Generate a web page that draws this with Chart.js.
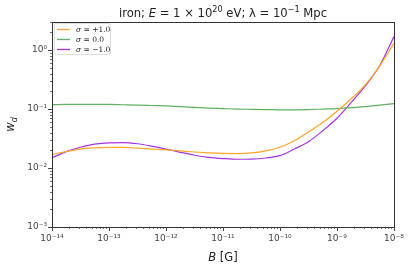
<!DOCTYPE html>
<html>
<head>
<meta charset="utf-8">
<script src="https://cdn.jsdelivr.net/npm/chart.js@4.4.0/dist/chart.umd.min.js"></script>
<style>
  html, body { margin: 0; padding: 0; background: #fff; }
  canvas { display: block; }
</style>
</head>
<body>
<canvas id="myChart" width="411" height="268"></canvas>
<script>
// B in gauss, as log10 exponents (quarter decades)
const logB = [-14, -13.75, -13.5, -13.25, -13, -12.75, -12.5, -12.25, -12,
  -11.75, -11.5, -11.25, -11, -10.75, -10.5, -10.25, -10,
  -9.75, -9.5, -9.25, -9, -8.75, -8.5, -8.25, -8];

const sigmaPlus = [0.017, 0.019, 0.021, 0.022, 0.0225, 0.0224, 0.0218, 0.021, 0.0203,
  0.0195, 0.0187, 0.0181, 0.0177, 0.0176, 0.0181, 0.0196, 0.0225,
  0.029, 0.041, 0.059, 0.092, 0.15, 0.26, 0.54, 1.3];

const sigmaZero = [0.119, 0.120, 0.1205, 0.1205, 0.120, 0.1185, 0.117, 0.115, 0.113,
  0.110, 0.107, 0.104, 0.102, 0.100, 0.099, 0.098, 0.097,
  0.097, 0.098, 0.100, 0.102, 0.106, 0.110, 0.117, 0.124];

const sigmaMinus = [0.015, 0.019, 0.0225, 0.0255, 0.0268, 0.027, 0.0258, 0.0235, 0.021,
  0.0185, 0.0165, 0.0152, 0.0145, 0.0141, 0.0142, 0.0148, 0.0162,
  0.021, 0.028, 0.043, 0.07, 0.13, 0.25, 0.55, 1.7];

const seriesLabels = ['+1.0', '0.0', '−1.0'];
const seriesColors = ['#ffa52a', '#62b062', '#a534e2'];

const xTickExps = [-14, -13, -12, -11, -10, -9, -8];
const yTickExps = [-3, -2, -1, 0];

const SUP = {'-': '⁻', '0': '⁰', '1': '¹', '2': '²', '3': '³', '4': '⁴', '5': '⁵', '6': '⁶', '7': '⁷', '8': '⁸', '9': '⁹'};
function powLabel(e) {
  return '10' + String(e).split('').map(c => SUP[c]).join('');
}

function logTicks(exps, max) {
  const out = [];
  for (let i = 0; i < exps.length; i++) {
    for (let m = 1; m <= 9; m++) {
      const v = m * Math.pow(10, exps[i]);
      if (v > max * 1.0001) break;
      out.push({ value: v, major: m === 1 });
    }
  }
  return out;
}

function points(ys) {
  return logB.map((e, i) => ({ x: Math.pow(10, e), y: ys[i] }));
}

function decadeLabel(v) {
  const e = Math.log10(v);
  return Math.abs(e - Math.round(e)) < 1e-6 ? powLabel(Math.round(e)) : '';
}

// rich text: parts [{t, italic, sup}]
function drawRich(ctx, parts, x, y, size, family, color, align) {
  const fontOf = p => (p.italic ? 'italic ' : '') + (p.sup ? size * 0.7 : size) + 'px ' + family;
  let total = 0;
  parts.forEach(p => { ctx.font = fontOf(p); total += ctx.measureText(p.t).width; });
  let cx = align === 'left' ? x : x - total / 2;
  ctx.fillStyle = color;
  ctx.textBaseline = 'alphabetic';
  ctx.textAlign = 'left';
  parts.forEach(p => {
    ctx.font = fontOf(p);
    ctx.fillText(p.t, cx, p.sup ? y - size * 0.42 : y);
    cx += ctx.measureText(p.t).width;
  });
}

const decor = {
  id: 'decor',
  afterDraw(chart) {
    const ctx = chart.ctx;
    const a = chart.chartArea;
    ctx.save();
    // ticks
    ctx.strokeStyle = '#333';
    ['x', 'y'].forEach(id => {
      const s = chart.scales[id];
      s.ticks.forEach(t => {
        const p = Math.round(s.getPixelForValue(t.value)) + 0.5;
        const len = t.major ? 4 : 2;
        ctx.lineWidth = t.major ? 0.9 : 0.7;
        ctx.beginPath();
        if (id === 'x') { ctx.moveTo(p, a.bottom); ctx.lineTo(p, a.bottom + len); }
        else { ctx.moveTo(a.left, p); ctx.lineTo(a.left - len, p); }
        ctx.stroke();
      });
    });
    // frame
    ctx.lineWidth = 1;
    ctx.strokeStyle = '#333';
    ctx.strokeRect(Math.round(a.left) + 0.5, Math.round(a.top) + 0.5,
      Math.round(a.right - a.left), Math.round(a.bottom - a.top));

    // legend, from the datasets
    const lx = a.left + 2, ly = a.top + 1;
    ctx.fillStyle = 'rgba(255,255,255,0.85)';
    ctx.strokeStyle = '#d4d4d4';
    ctx.lineWidth = 0.8;
    ctx.beginPath();
    ctx.roundRect(lx + 0.5, ly + 0.5, 56, 31, 2);
    ctx.fill();
    ctx.stroke();
    chart.data.datasets.forEach((ds, i) => {
      const yy = ly + 6.5 + i * 10;
      ctx.strokeStyle = ds.borderColor;
      ctx.lineWidth = 1.3;
      ctx.beginPath();
      ctx.moveTo(lx + 3, yy);
      ctx.lineTo(lx + 16, yy);
      ctx.stroke();
      drawRich(ctx, [{ t: 'σ', italic: true }, { t: ' = ' + ds.label }],
        lx + 22, yy + 2.6, 7.5, '"DejaVu Serif"', '#222', 'left');
    });

    // title
    const cxm = (a.left + a.right) / 2;
    drawRich(ctx, [
      { t: 'iron; ' }, { t: 'E', italic: true }, { t: ' = 1 × 10' }, { t: '20', sup: true },
      { t: ' eV; λ = 10' }, { t: '−1', sup: true }, { t: ' Mpc' }
    ], cxm, 17, 11.6, '"DejaVu Sans"', '#222');

    // x label
    drawRich(ctx, [{ t: 'B', italic: true }, { t: ' [G]' }], cxm, 261, 11.5, '"DejaVu Sans"', '#222');

    // y label
    ctx.translate(14, (a.top + a.bottom) / 2);
    ctx.rotate(-Math.PI / 2);
    ctx.fillStyle = '#222';
    ctx.textAlign = 'left';
    ctx.font = 'italic 11.5px "DejaVu Sans"';
    const ww = ctx.measureText('w').width;
    ctx.font = 'italic 8px "DejaVu Sans"';
    const dw = ctx.measureText('d').width;
    ctx.font = 'italic 11.5px "DejaVu Sans"';
    ctx.fillText('w', -(ww + dw) / 2, 0);
    ctx.font = 'italic 8px "DejaVu Sans"';
    ctx.fillText('d', -(ww + dw) / 2 + ww, 3);
    ctx.restore();
  }
};

const ctx = document.getElementById('myChart');

new Chart(ctx, {
  type: 'line',
  data: {
    datasets: [
      { label: seriesLabels[0], data: points(sigmaPlus), borderColor: seriesColors[0], backgroundColor: seriesColors[0] },
      { label: seriesLabels[1], data: points(sigmaZero), borderColor: seriesColors[1], backgroundColor: seriesColors[1] },
      { label: seriesLabels[2], data: points(sigmaMinus), borderColor: seriesColors[2], backgroundColor: seriesColors[2] }
    ]
  },
  options: {
    responsive: false,
    animation: false,
    devicePixelRatio: 1,
    layout: { padding: { top: 22, right: 17, left: 0, bottom: 0 } },
    elements: {
      point: { radius: 0 },
      line: { borderWidth: 1.2, tension: 0.4, cubicInterpolationMode: 'monotone' }
    },
    scales: {
      x: {
        type: 'logarithmic',
        min: 1e-14,
        max: 1e-8,
        afterBuildTicks: (scale) => { scale.ticks = logTicks(xTickExps, 1e-8); },
        afterFit: (scale) => { scale.height = 41; },
        grid: { display: false, drawTicks: false },
        border: { display: false },
        ticks: {
          autoSkip: false,
          maxRotation: 0,
          padding: 6,
          color: '#444',
          font: { family: 'DejaVu Sans', size: 9 },
          callback: decadeLabel
        }
      },
      y: {
        type: 'logarithmic',
        min: 1e-3,
        max: 3,
        afterBuildTicks: (scale) => { scale.ticks = logTicks(yTickExps, 3); },
        afterFit: (scale) => { scale.width = 52; },
        grid: { display: false, drawTicks: false },
        border: { display: false },
        ticks: {
          autoSkip: false,
          padding: 5,
          color: '#444',
          font: { family: 'DejaVu Sans', size: 9 },
          callback: decadeLabel
        }
      }
    },
    plugins: {
      title: { display: false },
      tooltip: { enabled: false },
      legend: { display: false }
    }
  },
  plugins: [decor]
});
</script>
</body>
</html>
